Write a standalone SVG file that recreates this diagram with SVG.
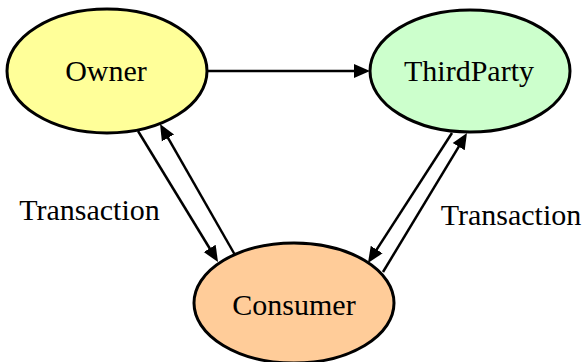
<svg xmlns="http://www.w3.org/2000/svg" width="585" height="362" viewBox="0 0 585 362" font-family="Times New Roman, Liberation Serif, Tinos, DejaVu Serif, serif">
  <style>
    .node ellipse { stroke: #000; stroke-width: 3; }
    .label { font-family: "Times New Roman", "Liberation Serif", Tinos, "DejaVu Serif", serif; font-size: 30px; fill: #000; text-anchor: middle; }
    .edge { stroke: #000; stroke-width: 2.5; fill: none; marker-end: url(#arrow); }
  </style>
  <defs>
    <marker id="arrow" markerUnits="userSpaceOnUse" markerWidth="18" markerHeight="16" viewBox="0 -8 18 16" refX="6" refY="0" orient="auto">
      <path d="M0,-7 L16,0 L0,7 z" fill="#000"/>
    </marker>
  </defs>
  <rect width="585" height="362" fill="#fff"/>

  <g id="connectors">
    <line class="edge" x1="207" y1="71" x2="360" y2="71"/>
    <line class="edge" x1="138" y1="131" x2="212.8" y2="253.5"/>
    <line class="edge" x1="235" y1="255" x2="165" y2="132.7"/>
    <line class="edge" x1="452" y1="133" x2="373.4" y2="254.6"/>
    <line class="edge" x1="383" y1="272" x2="461.8" y2="141.6"/>
    <text class="label" x="89.5" y="220">Transaction</text>
    <text class="label" x="511" y="225">Transaction</text>
  </g>

  <g id="owner" class="node">
    <ellipse cx="107" cy="71" rx="100" ry="62" fill="#ffff99"/>
    <text class="label" x="106" y="81">Owner</text>
  </g>

  <g id="thirdparty" class="node">
    <ellipse cx="470" cy="71" rx="100" ry="61" fill="#ccffcc"/>
    <text class="label" x="469" y="81">ThirdParty</text>
  </g>

  <g id="consumer" class="node">
    <ellipse cx="294" cy="303" rx="100" ry="60" fill="#ffcc99"/>
    <text class="label" x="294" y="315">Consumer</text>
  </g>
</svg>
